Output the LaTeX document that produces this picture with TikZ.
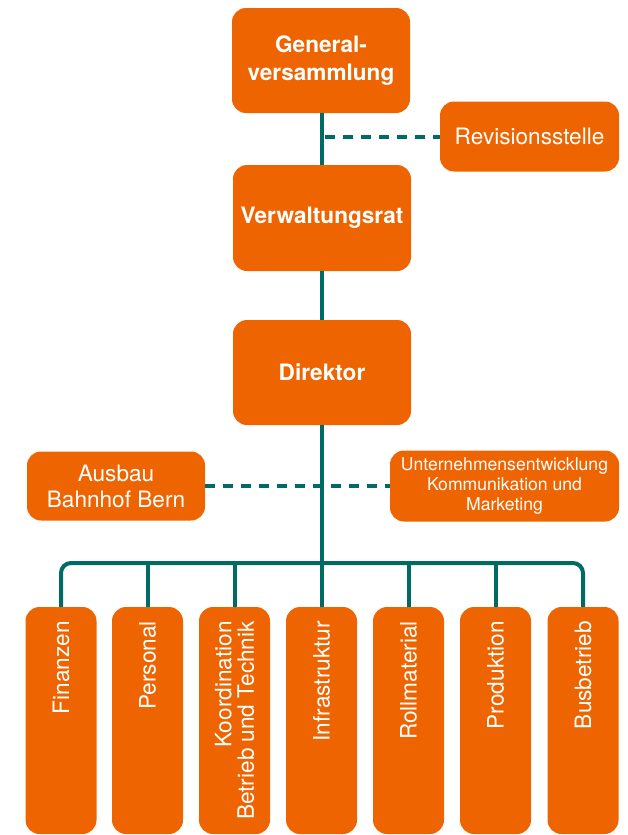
\documentclass[tikz,border=0pt]{standalone}
\usepackage{fontspec}
\setmainfont{TeX Gyre Heros}
\definecolor{orng}{HTML}{EE6400}
\definecolor{tealc}{HTML}{006B66}
\begin{document}
\begin{tikzpicture}[x=1pt,y=-1pt,
  box/.style={fill=orng, rounded corners=14pt, text=white, align=center, inner sep=0pt},
  bigtxt/.style={font=\fontsize{22.6}{28}\selectfont\bfseries},
  midtxt/.style={font=\fontsize{22.6}{26}\selectfont},
  smalltxt/.style={font=\fontsize{17.6}{20}\selectfont},
  vtxt/.style={rotate=90, anchor=east, align=right, text=white, inner sep=0pt, font=\fontsize{22.6}{22.5}\selectfont},
  conn/.style={draw=tealc, line width=4pt},
  dconn/.style={draw=tealc, line width=4pt, dash pattern=on 10pt off 8pt},
  colbox/.style={box, minimum width=71pt, minimum height=227pt}]
\useasboundingbox (0,0) rectangle (627,835);
% main boxes
\node[box, bigtxt, minimum width=178pt, minimum height=105pt] (gv) at (321,60.5) {General-\\versammlung};
\node[box, midtxt, minimum width=179pt, minimum height=70pt] (rev) at (529.5,136.5) {Revisionsstelle};
\node[box, bigtxt, minimum width=178pt, minimum height=106pt] (vr) at (322,218) {Verwaltungsrat};
\node[box, bigtxt, minimum width=178pt, minimum height=105pt] (dir) at (322,372.5) {Direktor};
\node[box, midtxt, minimum width=178pt, minimum height=69pt] (aus) at (116,486) {Ausbau\\Bahnhof Bern};
\node[box, smalltxt, minimum width=229pt, minimum height=71pt] (unt) at (504.5,486) {Unternehmensentwicklung\\Kommunikation und\\Marketing};
% column boxes
\node[colbox] (fin) at (61,720.5) {};
\node[colbox] (per) at (147.5,720.5) {};
\node[colbox] (koo) at (234.5,720.5) {};
\node[colbox] (inf) at (321.5,720.5) {};
\node[colbox] (rol) at (408.5,720.5) {};
\node[colbox] (pro) at (495.5,720.5) {};
\node[colbox] (bus) at (583,720.5) {};
\node[vtxt] (tfin) at (61,621) {Finanzen};
\node[vtxt] (tper) at (147.5,621) {Personal};
\node[vtxt] (tkoo) at (234.5,621) {Koordination\\Betrieb und Technik};
\node[vtxt] (tinf) at (321.5,621) {Infrastruktur};
\node[vtxt] (trol) at (408.5,621) {Rollmaterial};
\node[vtxt] (tpro) at (495.5,621) {Produktion};
\node[vtxt] (tbus) at (583,621) {Busbetrieb};
% connectors
\coordinate (busy) at (322,563);
\coordinate (j1) at (322,136.5);
\draw[conn] (vr.north |- gv.south) -- (vr.north);
\draw[conn] (vr.south) -- (dir.north);
\draw[conn] (dir.south) -- (busy);
\draw[dconn] (j1) ++(3,0) -- (rev.west);
\draw[dconn] (aus.east) -- (unt.west);
\draw[conn, rounded corners=10pt] (fin.north) |- (busy) -| (bus.north);
\draw[conn] (per.north) -- (per.north |- busy);
\draw[conn] (koo.north) -- (koo.north |- busy);
\draw[conn] (inf.north) -- (inf.north |- busy);
\draw[conn] (rol.north) -- (rol.north |- busy);
\draw[conn] (pro.north) -- (pro.north |- busy);
\end{tikzpicture}
\end{document}
